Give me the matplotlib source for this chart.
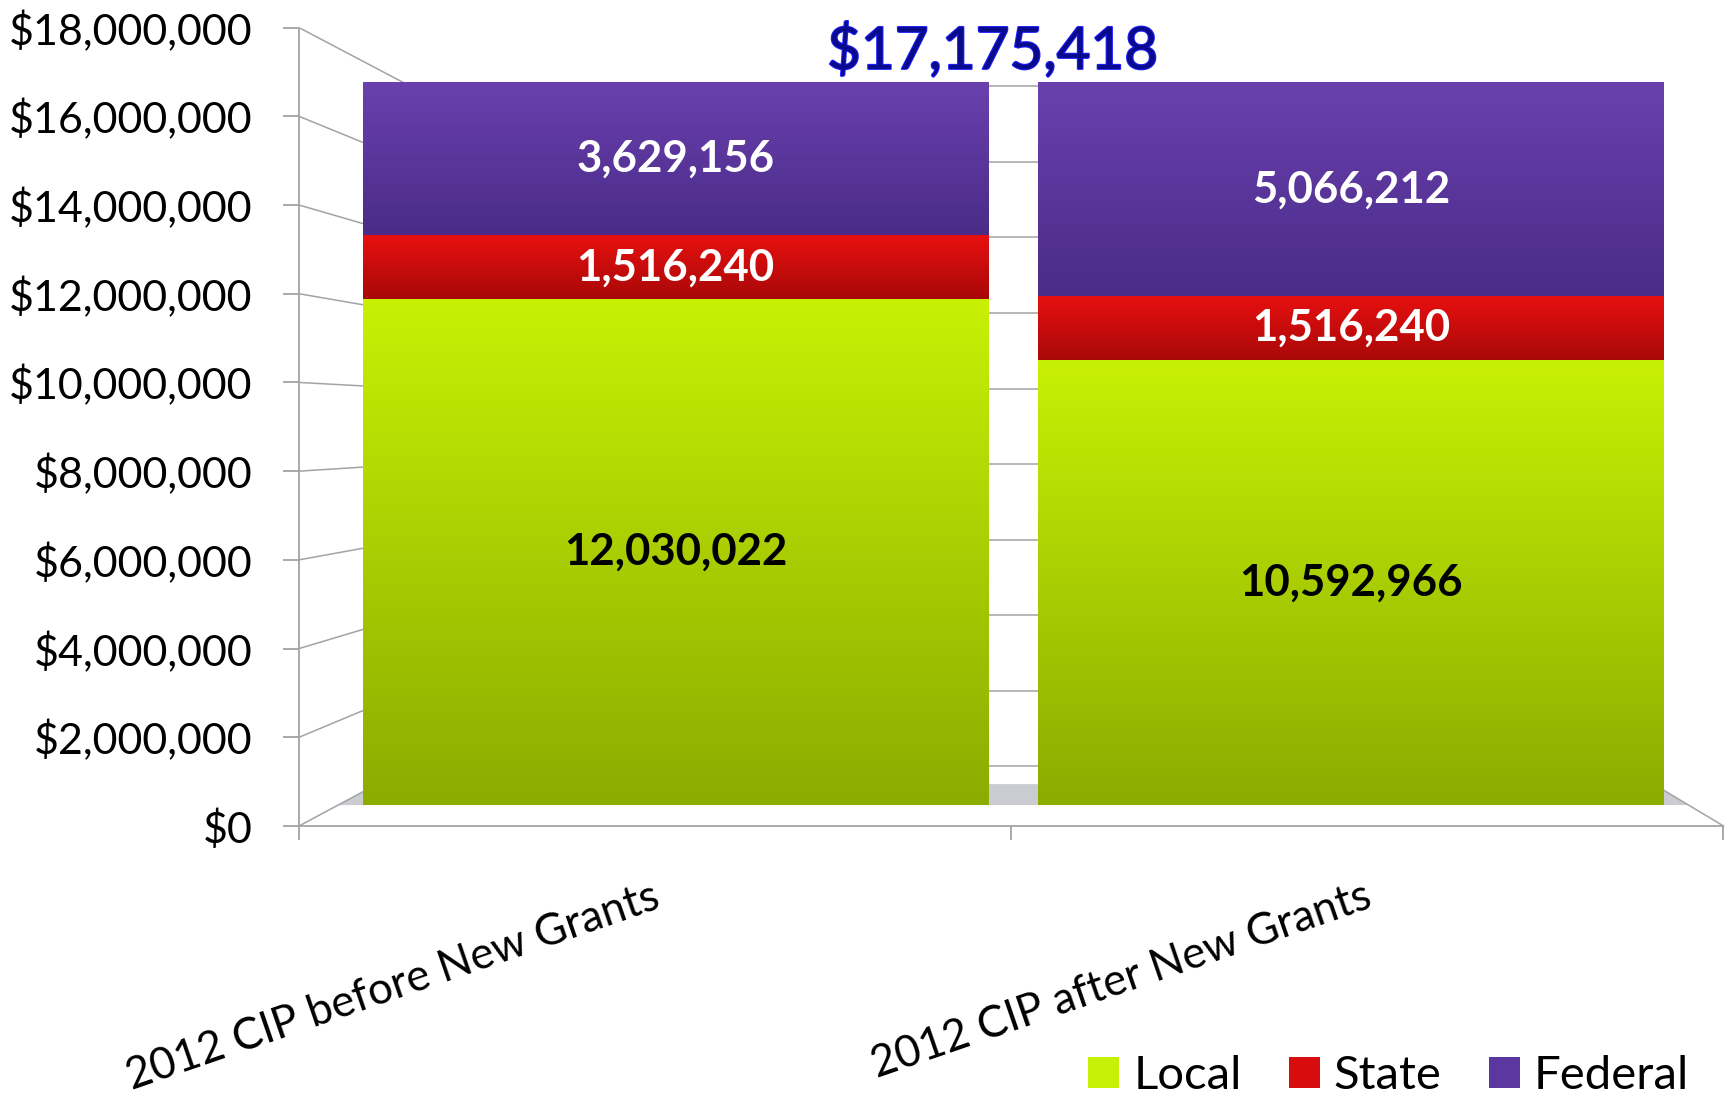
import numpy as np
import matplotlib.pyplot as plt
import matplotlib.patheffects as pe
from matplotlib.colors import LinearSegmentedColormap
from matplotlib.patches import Patch, Polygon

plt.rcParams["font.family"] = ["Lato", "DejaVu Sans"]

categories = ["2012 CIP before New Grants", "2012 CIP after New Grants"]
series = ["Local", "State", "Federal"]
local = [12030022, 10592966]
state = [1516240, 1516240]
federal = [3629156, 5066212]
yticks = [0, 2e6, 4e6, 6e6, 8e6, 10e6, 12e6, 14e6, 16e6, 18e6]

# (top colour, bottom colour, label colour) for each series
styles = {
    "Local": ("#c8f005", "#8cac00", "black"),
    "State": ("#e81010", "#a80808", "white"),
    "Federal": ("#6a40ae", "#4a2c88", "white"),
}

# fake 3d: vanishing point (front-plane data coords) and depth factors
VX, VY = 1.056, 9.076e6
K_BACK = 0.852
K_BAND = 0.896
K_BAR = 0.948
GRID = "#a3a3a3"


def depth(x, y, k):
    return VX + k * (x - VX), VY + k * (y - VY)


W, H = 1729, 1099
fig = plt.figure(figsize=(W / 100, H / 100), dpi=100)

# front plane: holds the value axis, the walls and the floor
ax = fig.add_axes([299 / W, 1 - 826 / H, 1424.5 / W, 798.4 / H])
ax.set_xlim(0, 2)
ax.set_ylim(0, 18e6)
ax.set_yticks(yticks)
ax.set_yticklabels(["${:,.0f}".format(v) for v in yticks], fontsize=31)
ax.set_xticks([0, 1, 2])
ax.set_xticklabels([])
for s in ["top", "right"]:
    ax.spines[s].set_visible(False)
for s in ["left", "bottom"]:
    ax.spines[s].set_color(GRID)
    ax.spines[s].set_linewidth(1.3)
ax.tick_params(axis="y", direction="out", length=11.5, width=1.3, color=GRID, pad=22)
ax.tick_params(axis="x", direction="out", length=10, width=1.3, color=GRID)

# back wall gridlines + left wall diagonals
xl, _ = depth(0, 0, K_BACK)
xr, _ = depth(2, 0, K_BACK)
for v in yticks:
    _, yb = depth(0, v, K_BACK)
    ax.plot([0, xl], [v, yb], color=GRID, lw=1.1, zorder=1)
    ax.plot([xl, xr], [yb, yb], color=GRID, lw=1.1, zorder=1)
# right floor edge
_, yb0 = depth(2, 0, K_BACK)
ax.plot([2, xr], [0, yb0], color=GRID, lw=1.1, zorder=1, clip_on=False)

# shaded strip of floor right behind the columns
band = []
for k in (K_BAND, K_BAR):
    l, y = depth(0, 0, k)
    r, _ = depth(2, 0, k)
    band.append((l, y, r))
ax.add_patch(Polygon([(band[0][0], band[0][1]), (band[0][2], band[0][1]),
                      (band[1][2], band[1][1]), (band[1][0], band[1][1])],
                     closed=True, facecolor="#cbcbd2", edgecolor="none", zorder=0.5))

# column plane, placed through the same perspective
to_fig = ax.transData + fig.transFigure.inverted()
p0 = to_fig.transform(depth(0, 0, K_BAR))
p1 = to_fig.transform(depth(2, 18e6, K_BAR))
bax = fig.add_axes([p0[0], p0[1], p1[0] - p0[0], p1[1] - p0[1]])
bax.patch.set_alpha(0)
bax.axis("off")

x = np.array([0.5, 1.5])
width = 0.926
bottom = np.zeros(2)
for name, vals in zip(series, [local, state, federal]):
    top_c, bot_c, txt_c = styles[name]
    cmap = LinearSegmentedColormap.from_list(name, [top_c, bot_c])
    bars = bax.bar(x, vals, width=width, bottom=bottom, color=bot_c, edgecolor="none")
    for rect, v, b in zip(bars, vals, bottom):
        grad = np.linspace(0, 1, 64).reshape(-1, 1)
        bax.imshow(grad, extent=(rect.get_x(), rect.get_x() + rect.get_width(),
                                 rect.get_y(), rect.get_y() + rect.get_height()),
                   cmap=cmap, aspect="auto", zorder=2, interpolation="bilinear")
        bax.text(rect.get_x() + rect.get_width() / 2, b + v / 2, "{:,}".format(v),
                 ha="center", va="center", fontsize=31.5, fontweight="bold",
                 color=txt_c, zorder=3)
    bottom = bottom + np.array(vals)

bax.set_xlim(0, 2)
bax.set_ylim(0, 18e6)

total = bottom.max()
t = bax.annotate("${:,.0f}".format(total), xy=(1.0, total), xytext=(-15, 23),
                 textcoords="offset points", ha="center", va="center",
                 fontsize=42, color="#0a0a8c", zorder=4)
t.set_path_effects([pe.withStroke(linewidth=1.5, foreground="#1f1fff")])

# category labels
for i, c in enumerate(categories):
    ax.annotate(c, xy=(i + 0.5, 0), xytext=(-3, -36), textcoords="offset points",
                ha="right", va="top", rotation=19, rotation_mode="anchor",
                fontsize=31.5, annotation_clip=False)

handles = [Patch(facecolor=styles[s][0], edgecolor="none") for s in series]
handles[1].set_facecolor("#d80c0c")
handles[2].set_facecolor("#5a38a0")
fig.legend(handles, series, ncol=3, loc="center right",
           bbox_to_anchor=(1689 / W, 1 - 1076 / H), frameon=False, fontsize=34,
           handlelength=0.65, handleheight=0.65, handletextpad=0.3,
           columnspacing=1.0, borderpad=0, borderaxespad=0)

fig.savefig("out.png", dpi=100)
